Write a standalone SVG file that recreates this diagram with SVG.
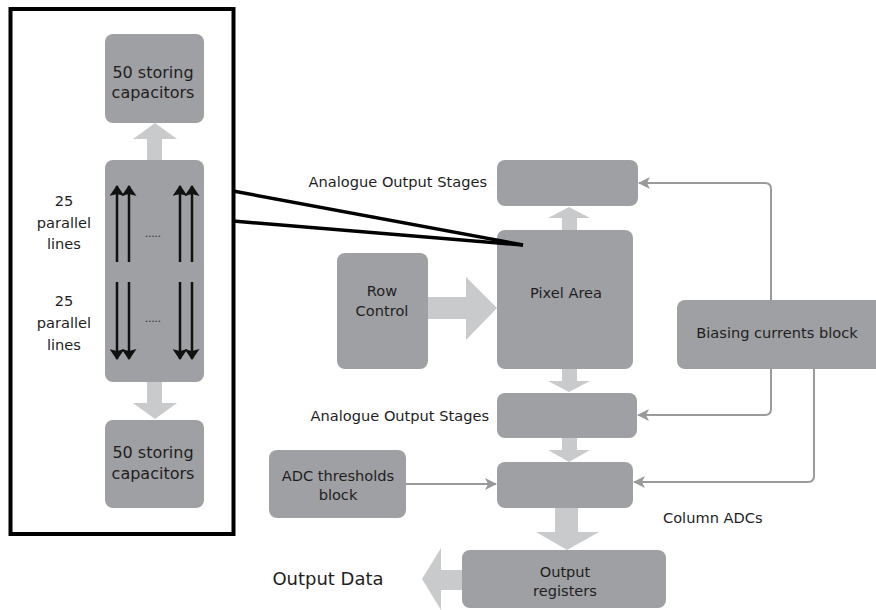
<svg xmlns="http://www.w3.org/2000/svg" width="876" height="610" viewBox="0 0 876 610">
<defs>
<style>
.box{fill:#9fa0a3;}
.fat{fill:#c9cacc;}
.t{font-family:"DejaVu Sans","Liberation Sans",sans-serif;font-size:14.6px;fill:#1e1e1e;text-anchor:middle;dominant-baseline:central;}
.cap{font-size:16px;}
.dots{font-size:10px;}
.big{font-size:18px;}
.end{text-anchor:end;}
.start{text-anchor:start;}
.conn{fill:none;stroke:#9a9a9c;stroke-width:2;}
.blk{stroke:#111;stroke-width:2.5;fill:none;}
</style>
<marker id="ga" viewBox="0 0 12 12" refX="11" refY="6" markerWidth="12" markerHeight="12" markerUnits="userSpaceOnUse" orient="auto">
<path d="M0,0 L12,6 L0,12 L3,6 Z" fill="#9a9a9c"/>
</marker>
<marker id="ba" viewBox="0 0 11 15" refX="10" refY="7.5" markerWidth="11" markerHeight="15" markerUnits="userSpaceOnUse" orient="auto">
<path d="M0,0 L11,7.5 L0,15 L2,7.5 Z" fill="#111"/>
</marker>
</defs>
<rect width="876" height="610" fill="#fff"/>

<g id="frame">
<rect x="10.5" y="9" width="223" height="525" fill="none" stroke="#000" stroke-width="4"/>
</g>

<g id="cap-top">
<rect class="box" x="105" y="34" width="99" height="89" rx="8"/>
<text class="t cap" x="153" y="72">50 storing</text>
<text class="t cap" x="153" y="92">capacitors</text>
</g>

<g id="lines-block">
<rect class="box" x="105" y="160" width="99" height="222" rx="8"/>
<text class="t dots" x="153" y="233">.....</text>
<text class="t dots" x="153" y="318">.....</text>
</g>

<g id="cap-bottom">
<rect class="box" x="105" y="420" width="99" height="88" rx="8"/>
<text class="t cap" x="153" y="452">50 storing</text>
<text class="t cap" x="153" y="473">capacitors</text>
</g>

<g id="label-up">
<text class="t" x="64" y="200">25</text>
<text class="t" x="64" y="222">parallel</text>
<text class="t" x="64" y="243">lines</text>
</g>
<g id="label-down">
<text class="t" x="64" y="300">25</text>
<text class="t" x="64" y="322">parallel</text>
<text class="t" x="64" y="344">lines</text>
</g>

<g id="row-control">
<rect class="box" x="337" y="253" width="91" height="116" rx="8"/>
<text class="t" x="382" y="290">Row</text>
<text class="t" x="382" y="310">Control</text>
</g>

<g id="pixel-area">
<rect class="box" x="497" y="230" width="136" height="139" rx="8"/>
<text class="t" x="566" y="292">Pixel Area</text>
</g>

<g id="aos-top">
<rect class="box" x="497" y="160" width="141" height="46" rx="8"/>
<text class="t end" x="487" y="181">Analogue Output Stages</text>
</g>

<g id="aos-bottom">
<rect class="box" x="497" y="393" width="140" height="45" rx="8"/>
<text class="t end" x="489" y="415">Analogue Output Stages</text>
</g>

<g id="column-adcs">
<rect class="box" x="497" y="462" width="136" height="46" rx="8"/>
<text class="t start" x="663" y="517">Column ADCs</text>
</g>

<g id="adc-thresholds">
<rect class="box" x="269" y="450" width="137" height="68" rx="8"/>
<text class="t" x="338" y="475">ADC thresholds</text>
<text class="t" x="338" y="494">block</text>
</g>

<g id="output-registers">
<rect class="box" x="462" y="550" width="204" height="58" rx="8"/>
<text class="t" x="565" y="571">Output</text>
<text class="t" x="565" y="590">registers</text>
</g>

<g id="biasing">
<rect class="box" x="677" y="300" width="210" height="69" rx="8"/>
<text class="t" x="777" y="332">Biasing currents block</text>
</g>

<g id="output-data">
<text class="t big" x="328" y="578">Output Data</text>
</g>

<g id="connectors">
<path class="fat" d="M147,160 V139 H133 L155,123 L177,139 H162 V160 Z"/>
<path class="fat" d="M147,382 V403 H133 L155,419 L177,403 H162 V382 Z"/>
<path class="fat" d="M562,230 V218 H548 L569,207 L590,218 H577 V230 Z"/>
<path class="fat" d="M562,369 V381 H548 L569,392 L590,381 H577 V369 Z"/>
<path class="fat" d="M562,438 V450 H548 L569,462 L590,450 H577 V438 Z"/>
<path class="fat" d="M555,508 V532 H536 L567,550 L599,532 H578 V508 Z"/>
<path class="fat" d="M428,297 H466 V277 L497,308 L466,340 V319 H428 Z"/>
<path class="fat" d="M462,570 H441 V548 L422,579 L441,610 V590 H462 Z"/>
<line x1="233" y1="191" x2="523" y2="245" stroke="#000" stroke-width="3.5"/>
<line x1="233" y1="221" x2="523" y2="245" stroke="#000" stroke-width="3.5"/>
<line class="blk" x1="117" y1="262" x2="117" y2="186" marker-end="url(#ba)"/>
<line class="blk" x1="129" y1="262" x2="129" y2="186" marker-end="url(#ba)"/>
<line class="blk" x1="180" y1="262" x2="180" y2="186" marker-end="url(#ba)"/>
<line class="blk" x1="192" y1="262" x2="192" y2="186" marker-end="url(#ba)"/>
<line class="blk" x1="117" y1="282" x2="117" y2="359" marker-end="url(#ba)"/>
<line class="blk" x1="129" y1="282" x2="129" y2="359" marker-end="url(#ba)"/>
<line class="blk" x1="180" y1="282" x2="180" y2="359" marker-end="url(#ba)"/>
<line class="blk" x1="192" y1="282" x2="192" y2="359" marker-end="url(#ba)"/>
<path class="conn" d="M406,484 H496" marker-end="url(#ga)"/>
<path class="conn" d="M771,300 V189 Q771,183 765,183 H639" marker-end="url(#ga)"/>
<path class="conn" d="M771,369 V409 Q771,415 765,415 H638" marker-end="url(#ga)"/>
<path class="conn" d="M814,369 V476 Q814,482 808,482 H634" marker-end="url(#ga)"/>
</g>
</svg>
